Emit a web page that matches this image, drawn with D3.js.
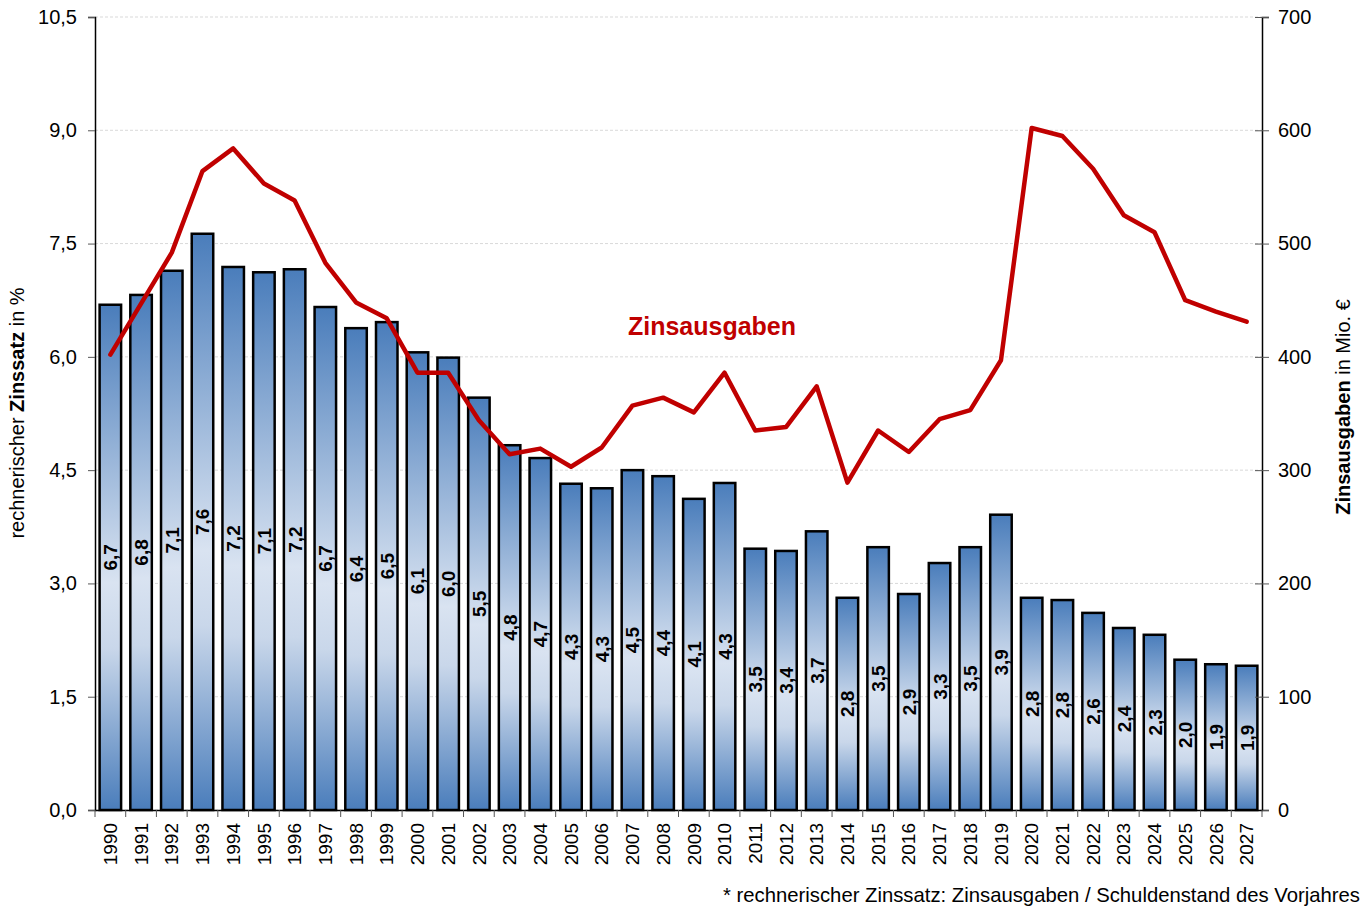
<!DOCTYPE html>
<html>
<head>
<meta charset="utf-8">
<script src="https://cdn.jsdelivr.net/npm/d3@7"></script>
<style>
  body { margin: 0; background: #fff; }
  text { font-family: "Liberation Sans", Arial, sans-serif; }
</style>
</head>
<body>
<script>
// Jahre
var years = [1990, 1991, 1992, 1993, 1994, 1995, 1996, 1997, 1998, 1999,
             2000, 2001, 2002, 2003, 2004, 2005, 2006, 2007, 2008, 2009,
             2010, 2011, 2012, 2013, 2014, 2015, 2016, 2017, 2018, 2019,
             2020, 2021, 2022, 2023, 2024, 2025, 2026, 2027];

// rechnerischer Zinssatz in %
var zinssatz = [6.69, 6.82, 7.14, 7.63, 7.19, 7.12, 7.16, 6.66, 6.38, 6.46,
                6.06, 5.99, 5.46, 4.83, 4.66, 4.32, 4.26, 4.50, 4.42, 4.12,
                4.33, 3.46, 3.43, 3.69, 2.81, 3.48, 2.86, 3.27, 3.48, 3.91,
                2.81, 2.78, 2.61, 2.41, 2.32, 1.99, 1.93, 1.91];

// Zinsausgaben in Mio. Euro
var zinsausgaben = [402, 447, 492, 564, 584, 553, 538, 483, 448, 434,
                    386, 386, 344, 314, 319, 303, 320, 357, 364, 351,
                    386, 335, 338, 374, 289, 335, 316, 345, 353, 397,
                    602, 595, 566, 525, 510, 450, 440, 431];

var leftTicks = [0, 1.5, 3, 4.5, 6, 7.5, 9, 10.5];
var rightTicks = [0, 100, 200, 300, 400, 500, 600, 700];

var width = 1370, height = 908;
var plotLeft = 95, plotRight = 1262, plotTop = 17, plotBottom = 810;

var svg = d3.select("body").append("svg")
            .attr("width", width)
            .attr("height", height);

var x = d3.scaleBand()
          .domain(years)
          .range([plotLeft, plotRight])
          .paddingInner(0.3)
          .paddingOuter(0.15);

var yLeft = d3.scaleLinear().domain([0, 10.5]).range([plotBottom, plotTop]);
var yRight = d3.scaleLinear().domain([0, 700]).range([plotBottom, plotTop]);

// Farbverlauf der Balken
var grad = svg.append("defs").append("linearGradient")
              .attr("id", "barGrad")
              .attr("x1", 0).attr("y1", 0)
              .attr("x2", 0).attr("y2", 1);
grad.append("stop").attr("offset", "0%").attr("stop-color", "#4a7dbb");
grad.append("stop").attr("offset", "55%").attr("stop-color", "#d9e3f1");
grad.append("stop").attr("offset", "68%").attr("stop-color", "#c9d7ea");
grad.append("stop").attr("offset", "100%").attr("stop-color", "#4a7dbb");

// Gitternetzlinien
svg.append("g")
   .selectAll("line")
   .data(leftTicks)
   .enter()
   .append("line")
   .attr("x1", plotLeft)
   .attr("x2", plotRight)
   .attr("y1", function (d) { return yLeft(d); })
   .attr("y2", function (d) { return yLeft(d); })
   .attr("stroke", "#d9d9d9")
   .attr("stroke-width", 1)
   .attr("stroke-dasharray", "3,2");

// Balken
svg.append("g")
   .selectAll("rect")
   .data(zinssatz)
   .enter()
   .append("rect")
   .attr("x", function (d, i) { return x(years[i]); })
   .attr("y", function (d) { return yLeft(d); })
   .attr("width", x.bandwidth())
   .attr("height", function (d) { return plotBottom - yLeft(d); })
   .attr("fill", "url(#barGrad)")
   .attr("stroke", "#000")
   .attr("stroke-width", 2.5);

// Balkenbeschriftung
svg.append("g")
   .selectAll("text")
   .data(zinssatz)
   .enter()
   .append("text")
   .attr("transform", function (d, i) {
     var cx = x(years[i]) + x.bandwidth() / 2;
     var cy = (yLeft(d) + plotBottom) / 2;
     return "translate(" + (cx + 7) + "," + cy + ") rotate(-90)";
   })
   .attr("text-anchor", "middle")
   .attr("font-size", 19)
   .attr("font-weight", "bold")
   .attr("fill", "#000")
   .text(function (d) { return d.toFixed(1).replace(".", ","); });

// Linie Zinsausgaben
var line = d3.line()
             .x(function (d, i) { return x(years[i]) + x.bandwidth() / 2; })
             .y(function (d) { return yRight(d); });

svg.append("path")
   .datum(zinsausgaben)
   .attr("d", line)
   .attr("fill", "none")
   .attr("stroke", "#c00000")
   .attr("stroke-width", 4.5)
   .attr("stroke-linejoin", "round")
   .attr("stroke-linecap", "round");

svg.append("text")
   .attr("x", 712)
   .attr("y", 335)
   .attr("text-anchor", "middle")
   .attr("font-size", 25)
   .attr("font-weight", "bold")
   .attr("fill", "#c00000")
   .text("Zinsausgaben");

// Achse links
var axisLeft = svg.append("g")
                  .attr("transform", "translate(" + plotLeft + ",0)")
                  .call(d3.axisLeft(yLeft)
                          .tickValues(leftTicks)
                          .tickSize(7)
                          .tickFormat(function (d) { return d.toFixed(1).replace(".", ","); }));
axisLeft.select(".domain").attr("stroke", "#000").attr("stroke-width", 1.5);
axisLeft.selectAll(".tick line").attr("stroke", "#555");
axisLeft.selectAll(".tick text")
        .attr("font-size", 20)
        .attr("font-family", "Liberation Sans, Arial, sans-serif")
        .attr("fill", "#000")
        .attr("x", -18);

// Achse rechts
var axisRight = svg.append("g")
                   .attr("transform", "translate(" + plotRight + ",0)")
                   .call(d3.axisRight(yRight)
                           .tickValues(rightTicks)
                           .tickSize(7));
axisRight.select(".domain").attr("stroke", "#000").attr("stroke-width", 1.5);
axisRight.selectAll(".tick line").attr("stroke", "#555").attr("x1", -7);
axisRight.selectAll(".tick text")
         .attr("font-size", 20)
         .attr("font-family", "Liberation Sans, Arial, sans-serif")
         .attr("fill", "#000")
         .attr("x", 16);

// Achse unten
var axisBottom = svg.append("g")
                    .attr("transform", "translate(0," + plotBottom + ")")
                    .call(d3.axisBottom(x).tickSize(0));
axisBottom.select(".domain").attr("stroke", "#000").attr("stroke-width", 1.5);
axisBottom.selectAll(".tick text")
          .attr("font-size", 19)
          .attr("font-family", "Liberation Sans, Arial, sans-serif")
          .attr("fill", "#000")
          .attr("text-anchor", "end")
          .attr("transform", "rotate(-90)")
          .attr("x", -13)
          .attr("y", 0)
          .attr("dy", "0.35em");

// Trennstriche zwischen den Jahren
var step = x.step();
svg.append("g")
   .selectAll("line")
   .data(d3.range(years.length + 1))
   .enter()
   .append("line")
   .attr("x1", function (d) { return plotLeft + d * step; })
   .attr("x2", function (d) { return plotLeft + d * step; })
   .attr("y1", plotBottom)
   .attr("y2", plotBottom + 7)
   .attr("stroke", "#555")
   .attr("stroke-width", 1);

// Achsentitel
var tl = svg.append("text")
            .attr("transform", "translate(24,413) rotate(-90)")
            .attr("text-anchor", "middle")
            .attr("font-size", 20);
tl.append("tspan").text("rechnerischer ");
tl.append("tspan").attr("font-weight", "bold").text("Zinssatz");
tl.append("tspan").text(" in %");

var tr = svg.append("text")
            .attr("transform", "translate(1350,407) rotate(-90)")
            .attr("text-anchor", "middle")
            .attr("font-size", 20);
tr.append("tspan").attr("font-weight", "bold").text("Zinsausgaben");
tr.append("tspan").text(" in Mio. €");

// Fussnote
svg.append("text")
   .attr("x", 1360)
   .attr("y", 902)
   .attr("text-anchor", "end")
   .attr("font-size", 20.3)
   .text("* rechnerischer Zinssatz: Zinsausgaben / Schuldenstand des Vorjahres");
</script>
</body>
</html>
